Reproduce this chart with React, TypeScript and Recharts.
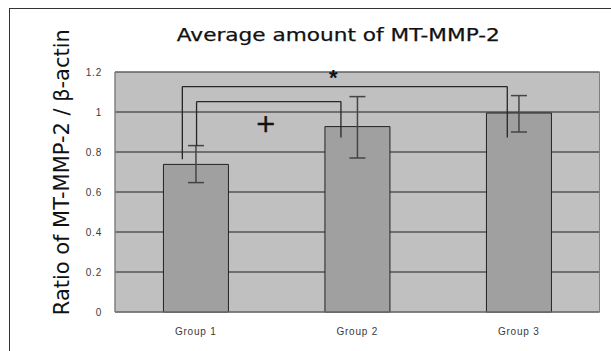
import React from 'react';
import {
  BarChart,
  Bar,
  XAxis,
  YAxis,
  CartesianGrid,
  ErrorBar,
  ReferenceLine,
  ReferenceDot,
  ReferenceArea,
} from 'recharts';

// ---- data ----
const categories = ['Group 1', 'Group 2', 'Group 3'];
const positions = [0.5, 1.5, 2.5];
const means = [0.738, 0.927, 0.995];
const errLow = [0.091, 0.157, 0.095];
const errHigh = [0.094, 0.15, 0.087];
const yTicks = [0, 0.2, 0.4, 0.6, 0.8, 1, 1.2];

// significance brackets (x in category units across the plot: 0..3, y in data units)
const bracketX1 = [0.417, 0.505];
const bracketX2 = [2.429, 1.399];
const bracketTop = [1.127, 1.052];
const bracketLeftEnd = [0.764, 0.83];
const bracketRightEnd = [0.872, 0.872];

// significance marks
const markText = ['*', '+'];
const markX = [1.352, 0.933];
const markY = [1.197, 0.944];

const title = 'Average amount of MT-MMP-2';
const yLabel = 'Ratio of MT-MMP-2 / \u03B2-actin';

const data = categories.map((name, i) => ({
  name,
  pos: positions[i],
  value: means[i],
  err: [errLow[i], errHigh[i]],
}));

const tickStyle = {
  fontSize: 10,
  fill: '#3a3a3a',
  fontFamily: 'Liberation Sans, Arial, sans-serif',
  letterSpacing: 0.8,
};

const StarShape = (props: any) => (
  <text
    x={props.cx}
    y={props.cy}
    dy="0.58em"
    textAnchor="middle"
    fontFamily="Liberation Sans, Arial, sans-serif"
    fontWeight="bold"
    fontSize={22}
    fill="#111"
  >
    {markText[0]}
  </text>
);

const PlusShape = (props: any) => (
  <text
    x={props.cx}
    y={props.cy}
    dy="0.37em"
    textAnchor="middle"
    fontFamily="DejaVu Sans, sans-serif"
    fontSize={25}
    fill="#111"
    stroke="#111"
    strokeWidth={0.5}
  >
    {markText[1]}
  </text>
);

const markShapes = [StarShape, PlusShape];

export default function App() {
  const lines: React.ReactNode[] = [];
  bracketX1.forEach((x1, i) => {
    const x2 = bracketX2[i];
    const top = bracketTop[i];
    const segs = [
      [
        { x: x1, y: bracketLeftEnd[i] },
        { x: x1, y: top },
      ],
      [
        { x: x1, y: top },
        { x: x2, y: top },
      ],
      [
        { x: x2, y: top },
        { x: x2, y: bracketRightEnd[i] },
      ],
    ];
    segs.forEach((seg, j) => {
      lines.push(
        <ReferenceLine
          key={`b${i}-${j}`}
          xAxisId="num"
          segment={seg as any}
          stroke="#262626"
          strokeWidth={1.3}
          ifOverflow="visible"
        />
      );
    });
  });

  return (
    <div
      style={{
        position: 'fixed',
        left: 9,
        top: 8,
        width: 602,
        height: 343,
        boxSizing: 'border-box',
        borderTop: '1px solid #333',
        borderLeft: '1px solid #333',
        background: '#fff',
        overflow: 'hidden',
      }}
    >
      <BarChart
        width={601}
        height={342}
        data={data}
        margin={{ top: 63, right: 11.5, bottom: 9, left: 0 }}
        barCategoryGap="30%"
      >
        <CartesianGrid
          vertical={false}
          horizontal={true}
          fill="#c0c0c0"
          fillOpacity={1}
          stroke="#1e1e1e"
          strokeOpacity={1}
        />
        <XAxis
          dataKey="name"
          tickLine={false}
          tickSize={6}
          tickMargin={10}
          height={30}
          axisLine={{ stroke: '#808080' }}
          tick={tickStyle}
          interval={0}
        />
        <XAxis
          xAxisId="num"
          dataKey="pos"
          type="number"
          domain={[0, 3]}
          hide
          allowDataOverflow
        />
        <YAxis
          width={105}
          domain={[0, 1.2]}
          ticks={yTicks}
          tickLine={false}
          tickSize={6}
          tickMargin={7}
          axisLine={{ stroke: '#808080' }}
          tick={tickStyle}
          interval={0}
        />
        <ReferenceArea
          y1={0}
          y2={1.2}
          fill="none"
          fillOpacity={0}
          stroke="#808080"
          strokeWidth={1}
        />
        <Bar
          dataKey="value"
          fill="#a0a0a0"
          stroke="#222"
          strokeWidth={1}
          isAnimationActive={false}
        >
          <ErrorBar
            dataKey="err"
            direction="y"
            width={8}
            stroke="#444"
            strokeWidth={1.5}
            isAnimationActive={false}
          />
        </Bar>
        {lines}
        {markX.map((x, i) => (
          <ReferenceDot
            key={`m${i}`}
            xAxisId="num"
            x={x}
            y={markY[i]}
            r={0}
            ifOverflow="visible"
            shape={markShapes[i]}
          />
        ))}
      </BarChart>
      <svg
        width={601}
        height={342}
        style={{ position: 'absolute', left: 0, top: 0, pointerEvents: 'none' }}
      >
        <text
          x={328.3}
          y={31.5}
          textAnchor="middle"
          fontFamily="DejaVu Sans, sans-serif"
          fontSize={17}
          fill="#111"
          stroke="#111"
          strokeWidth={0.25}
          textLength={323}
          lengthAdjust="spacingAndGlyphs"
        >
          {title}
        </text>
        <text
          x={59.5}
          y={163.2}
          transform="rotate(-90 59.5 163.2)"
          textAnchor="middle"
          fontFamily="DejaVu Sans, sans-serif"
          fontSize={21}
          fill="#111"
          textLength={286}
          lengthAdjust="spacingAndGlyphs"
        >
          {yLabel}
        </text>
      </svg>
    </div>
  );
}
